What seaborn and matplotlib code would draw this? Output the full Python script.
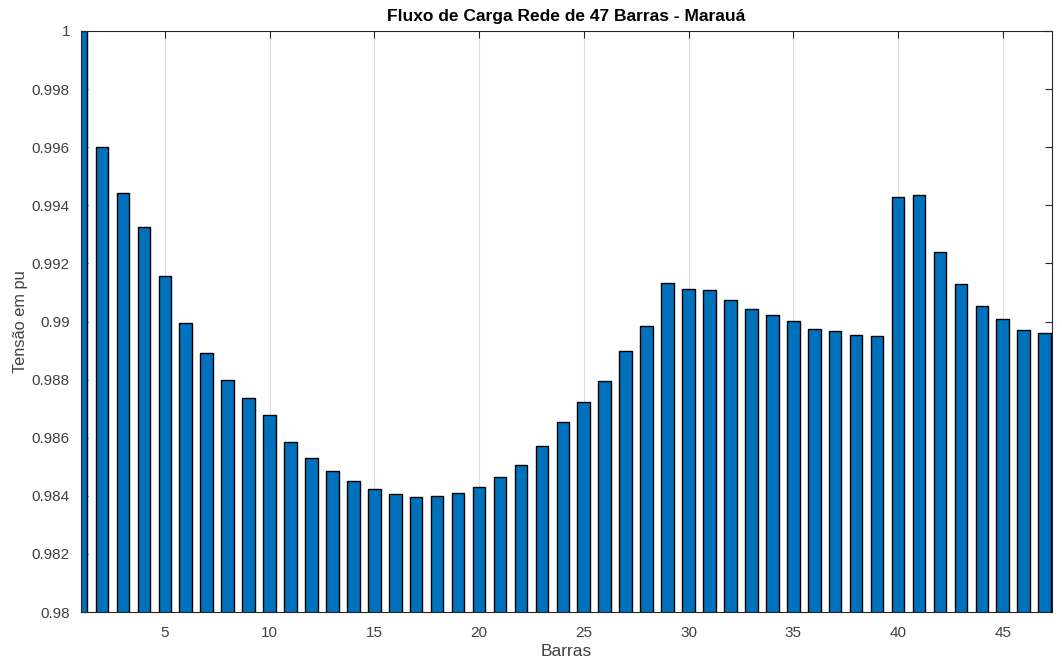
import numpy as np
import pandas as pd
import matplotlib
matplotlib.use("Agg")
import matplotlib.pyplot as plt
import seaborn as sns

barras = list(range(1, 48))
tensao = [
    1.00000, 0.99600, 0.99441, 0.99325, 0.99155, 0.98996, 0.98890, 0.98800,
    0.98738, 0.98677, 0.98584, 0.98531, 0.98486, 0.98450, 0.98422, 0.98406,
    0.98397, 0.98401, 0.98410, 0.98429, 0.98466, 0.98507, 0.98573, 0.98653,
    0.98722, 0.98796, 0.98897, 0.98983, 0.99133, 0.99113, 0.99110, 0.99073,
    0.99044, 0.99024, 0.99003, 0.98975, 0.98968, 0.98955, 0.98951, 0.99428,
    0.99436, 0.99240, 0.99130, 0.99054, 0.99008, 0.98971, 0.98959,
]
xtick_vals = [5, 10, 15, 20, 25, 30, 35, 40, 45]
ytick_vals = [0.98, 0.982, 0.984, 0.986, 0.988, 0.99, 0.992, 0.994, 0.996, 0.998, 1.0]

sns.set_theme(style="white")
plt.rcParams['font.family'] = ['Liberation Sans', 'DejaVu Sans']

df = pd.DataFrame({"Barras": barras, "Tensao": tensao})

fig = plt.figure(figsize=(10.62, 6.64), dpi=100)
ax = fig.add_axes([81/1062, 52/664, 971/1062, 581/664])

sns.barplot(data=df, x="Barras", y="Tensao", order=barras, color="#0072BD",
            saturation=1, width=0.6, edgecolor="black", linewidth=1.0, ax=ax)

ax.set_ylim(0.98, 1.0)
ax.set_xlim(0.0, 46.35)
ax.set_xticks([barras.index(v) for v in xtick_vals])
ax.set_xticklabels([str(v) for v in xtick_vals])
ax.set_yticks(ytick_vals)
ax.set_yticklabels(["%g" % v for v in ytick_vals])

ax.set_axisbelow(True)
ax.xaxis.grid(True, color="#DCDCDC", linewidth=0.8)
ax.yaxis.grid(False)

txt_col = "#262626"
for s in ax.spines.values():
    s.set_visible(True)
    s.set_color(txt_col)
    s.set_linewidth(0.8)

ax.tick_params(axis="both", which="both", direction="in", top=True, right=True,
               bottom=True, left=True, length=5, width=0.8, color=txt_col,
               labelsize=11, labelcolor="#404040")
ax.tick_params(axis="x", pad=10)
ax.tick_params(axis="y", pad=8)

ax.set_xlabel("Barras", fontsize=12.5, color="#404040", labelpad=3)
ax.set_ylabel("Tensão em pu", fontsize=11.8, color="#404040", labelpad=3)
ax.set_title("Fluxo de Carga Rede de 47 Barras - Marauá", fontsize=12.5,
             fontweight="bold", color="black", pad=7)

fig.savefig("out.png", dpi=100)
